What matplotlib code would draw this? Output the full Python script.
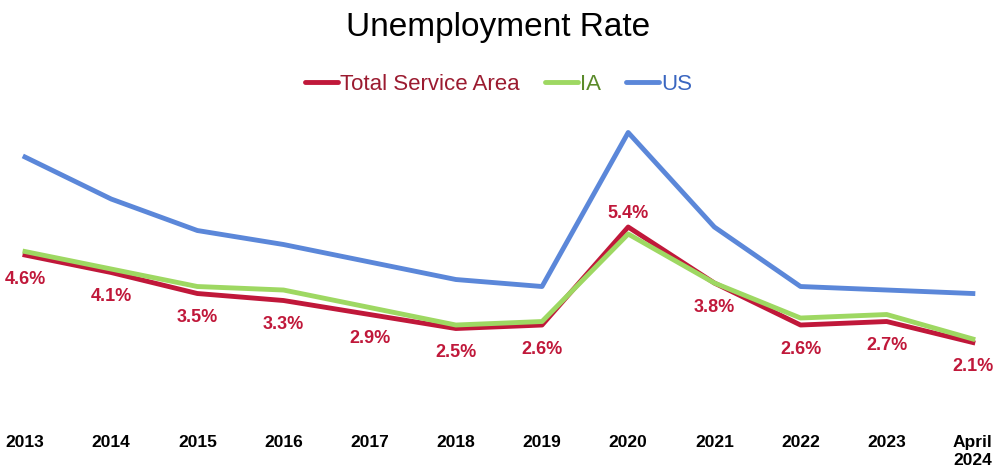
import numpy as np
import matplotlib.pyplot as plt

years = ['2013', '2014', '2015', '2016', '2017', '2018', '2019', '2020',
         '2021', '2022', '2023', 'April\n2024']
service_area = [4.6, 4.1, 3.5, 3.3, 2.9, 2.5, 2.6, 5.4, 3.8, 2.6, 2.7, 2.1]
iowa = [4.7, 4.2, 3.7, 3.6, 3.1, 2.6, 2.7, 5.2, 3.8, 2.8, 2.9, 2.2]
us = [7.4, 6.2, 5.3, 4.9, 4.4, 3.9, 3.7, 8.1, 5.4, 3.7, 3.6, 3.5]

red = '#C0183A'
green = '#9ED862'
blue = '#5B87D9'

plt.rcParams['font.family'] = ['Liberation Sans', 'DejaVu Sans']

fig = plt.figure(figsize=(9.97, 4.72), dpi=100)
ax = fig.add_axes([0, 0.1186, 1, 0.6674])

x = np.arange(len(years))
ax.plot(x, service_area, color=red, lw=3.5, label='Total Service Area')
ax.plot(x, iowa, color=green, lw=3.5, label='IA')
ax.plot(x, us, color=blue, lw=3.5, label='US')

for i, v in enumerate(service_area):
    dy = 14 if i == 7 else -24
    ax.annotate(f'{v:.1f}%', (i, v), xytext=(0, dy), textcoords='offset pixels',
                ha='center', va='center', color=red, fontsize=13,
                fontweight='bold')

ax.set_xlim(-0.29, 11.28)
ax.set_ylim(0, 9)
ax.set_yticks([])
ax.set_xticks(x)
ax.set_xticklabels(years, fontsize=12.5, fontweight='bold', va='top')
ax.tick_params(axis='x', length=0, pad=14)
for s in ax.spines.values():
    s.set_visible(False)

fig.text(0.5, 0.942, 'Unemployment Rate', ha='center', va='center', fontsize=24)

leg = fig.legend(loc='center', bbox_to_anchor=(0.5, 0.822), ncol=3, frameon=False,
                 fontsize=16, handlelength=1.5, handletextpad=0.1, columnspacing=1.1)
for t, c in zip(leg.get_texts(), ['#9B1B30', '#5A8A2A', '#3A66C0']):
    t.set_color(c)
for h in leg.get_lines():
    h.set_linewidth(3.5)
    h.set_solid_capstyle('round')

fig.savefig('out.png', dpi=100)
